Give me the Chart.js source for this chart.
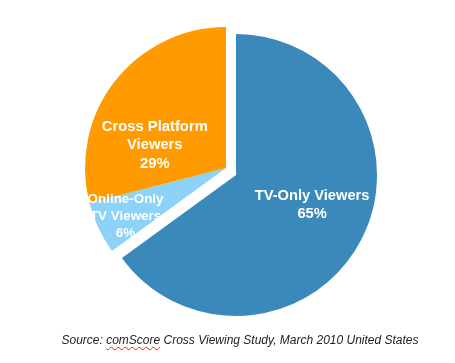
<!DOCTYPE html>
<html>
<head>
<meta charset="utf-8">
<script src="https://cdn.jsdelivr.net/npm/chart.js@4"></script>
<style>
  html, body { margin: 0; padding: 0; background: #fff; }
  #wrap { position: relative; width: 455px; height: 363px; }
  #viewersChart { position: absolute; left: 0; top: 0; }
  #source {
    position: absolute; left: 0; width: 480px; top: 333px;
    text-align: center; font: italic 12px "Liberation Sans", Arial, sans-serif; color: #222;
  }
  #source span { text-decoration: underline wavy #d22; text-decoration-thickness: 1px; text-underline-offset: 2px; }
</style>
</head>
<body>
<div id="wrap">
  <canvas id="viewersChart" width="455" height="363"></canvas>
  <div id="source">Source: <span>comScore</span> Cross Viewing Study, March 2010 United States</div>
</div>
<script>
const segments = ['TV-Only Viewers', 'Online-Only TV Viewers', 'Cross Platform Viewers'];
const shares = [65, 6, 29];
const labelLines = [['TV-Only Viewers', '65%'], ['Online-Only', 'TV Viewers', '6%'], ['Cross Platform', 'Viewers', '29%']];
const colors = ['#3a89ba', '#8dd2f7', '#ff9a00'];

// где рисовать подписи: угол (градусы) и доля радиуса от центра дуги
const labelPos = [
    { angle: 21.5, r: 0.58, size: 14.7, lh: 18 },
    { angle: 154.4, r: 0.79, size: 13.4, lh: 17 },
    { angle: 197.6, r: 0.53, size: 14.8, lh: 18.5 }
];

// оранжевый и голубой сектор вынесены вместе, вверх-влево
const pulled = [1, 2];
const pullDx = -10, pullDy = -7;

const pullPlugin = {
    id: 'pull',
    afterDatasetUpdate(chart) {
        const arcs = chart.getDatasetMeta(0).data;
        const cx = arcs[0].x, cy = arcs[0].y;
        pulled.forEach(i => {
            arcs[i].x = cx + pullDx;
            arcs[i].y = cy + pullDy;
        });
    }
};

const labelPlugin = {
    id: 'sliceLabels',
    afterDatasetsDraw(chart) {
        const ctx = chart.ctx;
        const arcs = chart.getDatasetMeta(0).data;
        ctx.save();
        ctx.fillStyle = '#fff';
        ctx.textAlign = 'center';
        ctx.textBaseline = 'middle';
        arcs.forEach((arc, i) => {
            const p = labelPos[i];
            const a = p.angle * Math.PI / 180;
            const x = arc.x + Math.cos(a) * arc.outerRadius * p.r;
            const y = arc.y + Math.sin(a) * arc.outerRadius * p.r;
            const lines = labelLines[i];
            ctx.font = 'bold ' + p.size + 'px "Liberation Sans", Arial, sans-serif';
            lines.forEach((t, j) => {
                ctx.fillText(t, x, y + (j - (lines.length - 1) / 2) * p.lh);
            });
        });
        ctx.restore();
    }
};

const ctx = document.getElementById('viewersChart').getContext('2d');
new Chart(ctx, {
    type: 'pie',
    data: {
        labels: segments,
        datasets: [{
            data: shares,
            backgroundColor: colors,
            borderWidth: 0
        }]
    },
    options: {
        responsive: false,
        animation: false,
        layout: { padding: { top: 34, bottom: 47, left: 95, right: 78 } },
        plugins: {
            legend: { display: false },
            tooltip: { enabled: false }
        }
    },
    plugins: [pullPlugin, labelPlugin]
});
</script>
</body>
</html>
